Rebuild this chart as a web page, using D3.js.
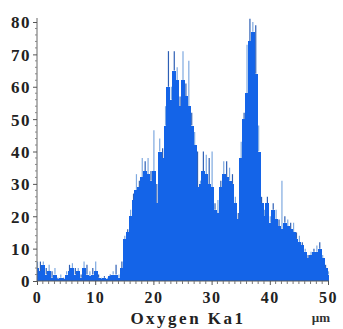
<!DOCTYPE html>
<html>
<head>
<meta charset="utf-8">
<script src="https://cdn.jsdelivr.net/npm/d3@7"></script>
<style>
  body { margin: 0; background: #fff; }
  svg { display: block; }
  .tick text { font-family: "Liberation Serif", "DejaVu Serif", serif; font-weight: bold; }
</style>
</head>
<body>
<div id="chart"></div>
<script>
// line scan, oxygen K-alpha counts, one value every 0.5 um
var positions = d3.range(0, 50.01, 0.5);

var counts = [
  4, 3, 5, 2, 3, 1, 2, 0.5, 1, 0.5,
  2, 3, 4, 2, 3, 1, 4, 2, 1.5, 2,
  3, 1, 0.5, 1, 0.5, 1.5, 2, 2, 1, 4,
  13, 15, 20, 25, 28, 29, 32, 34, 33, 31,
  34, 24, 40, 38, 48, 60, 56, 65, 62, 54,
  62, 57, 54, 48, 42, 29, 30, 34, 33, 30,
  29, 22, 21, 29, 33, 32, 31, 30, 24, 19,
  38, 50, 58, 74, 77, 64, 40, 24, 20, 24,
  18, 22, 19, 17, 16, 18, 17, 16, 15, 13,
  12, 11, 9, 7, 8, 9, 9, 10, 7, 4,
  2
];

// tops of the thin spikes standing over the fill
var peaks = [
  6, 6, 6, 4, 5, 3, 4, 1, 2, 1,
  3, 5, 5.5, 4, 4, 2, 6, 5, 3, 4,
  6, 2, 1, 1.5, 1, 2, 3, 5, 2, 6,
  14, 16, 22, 27, 33, 31, 38, 37, 38, 34,
  46.6, 30, 44, 41, 54, 71, 60, 71, 66, 57,
  71, 61, 68, 52, 46, 40, 31, 40, 39, 38,
  40, 24, 25, 31, 37, 37, 35, 33, 26, 21,
  43, 52, 73, 81, 80, 79, 48, 26, 22, 26,
  20, 24, 22, 19, 31, 20, 19, 18, 18, 15,
  14, 12, 10, 8, 9, 10, 11, 12, 8, 5,
  3
];

var xTicks = [0, 10, 20, 30, 40, 50];
var yTicks = [0, 10, 20, 30, 40, 50, 60, 70, 80];
var title = "Oxygen Ka1";
var unit = "\u00b5m";

var svgWidth = 343;
var svgHeight = 329;

var svg = d3.select("#chart")
  .append("svg")
  .attr("width", svgWidth)
  .attr("height", svgHeight);

var xScale = d3.scaleLinear().domain([0, 50]).range([37, 328]);
var yScale = d3.scaleLinear().domain([0, 80]).range([281, 22]);

var data = positions.map(function(p, i) {
  return { x: p, v: counts[i], top: peaks[i] };
});

// thin spikes first so the fill sits over their bottoms
svg.append("g")
  .selectAll("line")
  .data(data)
  .enter()
  .append("line")
  .attr("x1", d => xScale(d.x) + 0.5)
  .attr("x2", d => xScale(d.x) + 0.5)
  .attr("y1", d => yScale(d.v))
  .attr("y2", d => yScale(d.top))
  .attr("stroke", (d, i) => i % 2 ? "#2d5fb5" : "#7fa9e0")
  .attr("stroke-width", 1.2);

// filled profile, bars overlap a little so no white seams show
svg.append("g")
  .attr("shape-rendering", "crispEdges")
  .selectAll("rect")
  .data(data)
  .enter()
  .append("rect")
  .attr("x", d => xScale(Math.max(0, d.x - 0.25)))
  .attr("width", d => xScale(Math.min(50, d.x + 0.25)) - xScale(Math.max(0, d.x - 0.25)) + 1)
  .attr("y", d => yScale(d.v))
  .attr("height", d => yScale(0) - yScale(d.v))
  .attr("fill", "#1464e8");

// axes
var leftAxis = d3.axisLeft(yScale).tickValues(yTicks).tickSize(4).tickPadding(2);
var yAxisG = svg.append("g")
  .attr("transform", "translate(37,0)")
  .call(leftAxis);
yAxisG.select(".domain").attr("stroke", "#666").attr("d", "M0,281V18");
yAxisG.selectAll(".tick line").attr("stroke", "#555");
yAxisG.selectAll(".tick text")
  .style("font-size", "17px")
  .style("letter-spacing", "1.5px")
  .attr("fill", "#222")
  .attr("dy", "0.35em");

// minor y ticks every 2
svg.append("g")
  .selectAll("line")
  .data(d3.range(2, 80, 2).filter(v => v % 10 !== 0))
  .enter()
  .append("line")
  .attr("x1", 35)
  .attr("x2", 37)
  .attr("y1", d => yScale(d))
  .attr("y2", d => yScale(d))
  .attr("stroke", "#888");

var bottomAxis = d3.axisBottom(xScale).tickValues(xTicks).tickSize(4).tickPadding(7);
var xAxisG = svg.append("g")
  .attr("transform", "translate(0,281)")
  .call(bottomAxis);
xAxisG.select(".domain").attr("stroke", "#555").attr("d", "M37,0H329");
xAxisG.selectAll(".tick line").attr("stroke", "#555");
xAxisG.selectAll(".tick text")
  .style("font-size", "16px")
  .style("letter-spacing", "1.5px")
  .attr("fill", "#222");

// minor x ticks every 1 um
svg.append("g")
  .selectAll("line")
  .data(d3.range(1, 50, 1).filter(v => v % 10 !== 0))
  .enter()
  .append("line")
  .attr("x1", d => xScale(d))
  .attr("x2", d => xScale(d))
  .attr("y1", 281)
  .attr("y2", 284)
  .attr("stroke", "#777");

// axis title and unit
svg.append("text")
  .attr("x", 188)
  .attr("y", 324)
  .attr("text-anchor", "middle")
  .style("font-family", "Liberation Serif, DejaVu Serif, serif")
  .style("font-weight", "bold")
  .style("font-size", "17px")
  .style("letter-spacing", "2.5px")
  .attr("fill", "#222")
  .text(title);

svg.append("text")
  .attr("x", 321)
  .attr("y", 322)
  .attr("text-anchor", "middle")
  .style("font-family", "Liberation Serif, DejaVu Serif, serif")
  .style("font-weight", "bold")
  .style("font-size", "13px")
  .attr("fill", "#333")
  .text(unit);
</script>
</body>
</html>
